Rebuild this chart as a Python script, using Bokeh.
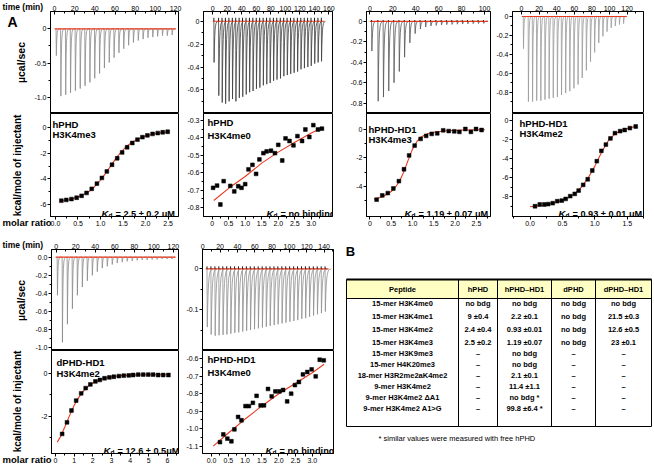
import numpy as np
from bokeh.plotting import figure
from bokeh.models import Range1d, FixedTicker, Label, CustomJSTickFormatter, GridBox
from bokeh.layouts import row, column
from bokeh.embed import file_html
from bokeh.resources import INLINE
from bokeh.core.properties import value

FONT = "Liberation Sans"
RED = "#e8391d"

# ================= DATA =================
# --- A1: hPHD / H3K4me3 ---
a1_inj_time = [1.5, 6.0, 10.8, 15.6, 20.4, 25.2, 30.0, 34.8, 39.6, 44.4, 49.2, 54.0, 58.8,
               63.6, 68.4, 73.2, 78.0, 82.8, 87.6, 92.4, 97.2, 102.0, 106.8, 111.6, 116.4]
a1_inj_peak = [-0.39, -0.98, -0.96, -0.93, -0.90, -0.87, -0.83, -0.78, -0.72, -0.65, -0.57, -0.49,
               -0.42, -0.35, -0.29, -0.24, -0.20, -0.17, -0.15, -0.13, -0.12, -0.11, -0.10, -0.10, -0.09]
a1_ratio = [0.13, 0.24, 0.355, 0.47, 0.58, 0.69, 0.805, 0.92, 1.03, 1.14, 1.255, 1.37, 1.48,
            1.59, 1.705, 1.82, 1.93, 2.04, 2.155, 2.27, 2.38, 2.49]
a1_heat = [-5.68, -5.62, -5.55, -5.45, -5.30, -5.08, -4.76, -4.36, -3.92, -3.42, -2.90, -2.40,
           -1.95, -1.55, -1.22, -0.96, -0.77, -0.63, -0.52, -0.45, -0.39, -0.35]
a1_fit_ratio = [0.10, 0.30, 0.50, 0.70, 0.80, 0.90, 1.00, 1.10, 1.20, 1.30, 1.40, 1.50, 1.60,
                1.70, 1.80, 1.90, 2.00, 2.20, 2.40, 2.50]
a1_fit_heat = [-5.72, -5.60, -5.40, -5.08, -4.82, -4.48, -4.08, -3.62, -3.12, -2.62, -2.15, -1.75,
               -1.42, -1.16, -0.96, -0.80, -0.68, -0.51, -0.41, -0.37]

# --- A2: hPHD / H3K4me0 ---
a2_inj_time = [1.5, 8.0, 12.7, 17.4, 22.2, 26.9, 31.6, 36.3, 41.0, 45.8, 50.5, 55.2, 59.9, 64.6,
               69.4, 74.1, 78.8, 83.5, 88.2, 93.0, 97.7, 102.4, 107.1, 111.8, 116.6, 121.3, 126.0,
               130.7, 135.4, 140.2, 144.9, 149.6]
a2_inj_peak = [-0.36, -0.65, -0.71, -0.72, -0.70, -0.68, -0.70, -0.67, -0.66, -0.64, -0.62, -0.61,
               -0.59, -0.58, -0.56, -0.55, -0.54, -0.52, -0.51, -0.50, -0.48, -0.47, -0.46, -0.45,
               -0.44, -0.42, -0.41, -0.40, -0.39, -0.37, -0.36, -0.35]
a2_ratio = [0.03, 0.15, 0.25, 0.35, 0.55, 0.67, 0.79, 0.89, 1.00, 1.10, 1.22, 1.33, 1.43, 1.55,
            1.65, 1.78, 1.90, 2.00, 2.12, 2.22, 2.34, 2.46, 2.58, 2.72, 2.82, 2.94, 3.06, 3.20, 3.32]
a2_heat = [-0.687, -0.674, -0.783, -0.649, -0.676, -0.708, -0.678, -0.687, -0.666, -0.581, -0.555,
           -0.607, -0.524, -0.488, -0.478, -0.474, -0.488, -0.440, -0.530, -0.403, -0.418, -0.443,
           -0.390, -0.418, -0.352, -0.395, -0.327, -0.352, -0.347]
a2_fit_ratio = [0.05, 0.50, 1.00, 1.50, 2.00, 2.50, 3.00, 3.30]
a2_fit_heat = [-0.760, -0.690, -0.622, -0.545, -0.482, -0.425, -0.372, -0.345]

# --- A3: hPHD-HD1 / H3K4me3 ---
a3_inj_time = [1.5, 7.0, 11.6, 16.2, 20.8, 25.4, 30.0, 34.6, 39.2, 43.8, 48.4, 53.0, 57.6, 62.2,
               66.8, 71.4, 76.0, 80.6, 85.2, 89.8, 94.4, 99.0]
a3_inj_peak = [-0.29, -0.78, -0.74, -0.68, -0.60, -0.49, -0.35, -0.21, -0.12, -0.075, -0.055,
               -0.045, -0.04, -0.035, -0.032, -0.03, -0.028, -0.026, -0.025, -0.023, -0.022, -0.02]
a3_ratio = [0.157, 0.29, 0.42, 0.55, 0.68, 0.80, 0.92, 1.05, 1.19, 1.32, 1.45, 1.58, 1.72, 1.85,
            1.98, 2.10, 2.24, 2.37, 2.49, 2.62]
a3_heat = [-4.92, -4.62, -4.46, -4.14, -3.63, -2.80, -1.84, -1.15, -0.69, -0.48, -0.34, -0.30,
           -0.09, -0.14, -0.16, -0.20, 0.00, -0.20, 0.00, -0.07]
a3_fit_ratio = [0.10, 0.30, 0.50, 0.60, 0.70, 0.80, 0.90, 1.00, 1.10, 1.20, 1.35, 1.50, 1.80,
                2.20, 2.70]
a3_fit_heat = [-4.88, -4.72, -4.35, -4.05, -3.60, -2.95, -2.15, -1.40, -0.88, -0.55, -0.33,
               -0.22, -0.12, -0.07, -0.05]

# --- A4: hPHD-HD1 / H3K4me2 ---
a4_inj_time = [2.0, 7.6, 12.3, 17.0, 21.7, 26.4, 31.1, 35.8, 40.5, 45.2, 49.9, 54.6, 59.3, 64.0,
               68.7, 73.4, 78.1, 82.8, 87.5, 92.2, 96.9, 101.6, 106.3, 111.0, 115.7]
a4_inj_peak = [-0.34, -0.90, -0.90, -0.89, -0.89, -0.88, -0.87, -0.86, -0.85, -0.83, -0.81, -0.79,
               -0.76, -0.72, -0.65, -0.57, -0.48, -0.38, -0.28, -0.21, -0.16, -0.12, -0.10,
               -0.085, -0.075]
a4_ratio = [0.077, 0.15, 0.22, 0.28, 0.35, 0.42, 0.49, 0.55, 0.62, 0.69, 0.75, 0.82, 0.89, 0.96,
            1.03, 1.10, 1.17, 1.24, 1.31, 1.39, 1.46, 1.54, 1.63]
a4_heat = [-9.02, -8.84, -8.84, -8.80, -8.70, -8.49, -8.42, -8.25, -7.96, -7.72, -7.37, -6.77,
           -6.18, -5.26, -4.28, -3.19, -2.53, -1.89, -1.33, -1.12, -1.00, -0.80, -0.63]
a4_fit_ratio = [0.00, 0.20, 0.40, 0.60, 0.70, 0.80, 0.90, 1.00, 1.05, 1.10, 1.20, 1.30, 1.40,
                1.50, 1.63]
a4_fit_heat = [-9.08, -8.92, -8.62, -8.10, -7.65, -6.95, -6.00, -4.80, -4.10, -3.40, -2.20,
               -1.45, -1.08, -0.85, -0.62]

# --- A5: dPHD-HD1 / H3K4me2 ---
a5_inj_time = [1.0, 6.1, 11.2, 16.3, 21.4, 26.5, 31.6, 36.7, 41.8, 46.9, 52.0, 57.1, 62.2, 67.3,
               72.4, 77.5, 82.6, 87.7, 92.8, 97.9, 103.0, 108.1, 113.2, 118.3]
a5_inj_peak = [-0.42, -0.94, -0.74, -0.57, -0.42, -0.33, -0.26, -0.20, -0.16, -0.12, -0.10, -0.08,
               -0.065, -0.055, -0.045, -0.04, -0.035, -0.03, -0.03, -0.025, -0.025, -0.02, -0.02,
               -0.02]
a5_ratio = [0.36, 0.62, 0.86, 1.11, 1.38, 1.62, 1.87, 2.14, 2.38, 2.63, 2.89, 3.13, 3.40, 3.66,
            3.93, 4.16, 4.43, 4.70, 4.97, 5.23, 5.50, 5.77, 6.05]
a5_heat = [-2.82, -2.28, -1.73, -1.27, -0.93, -0.69, -0.52, -0.38, -0.31, -0.23, -0.19, -0.16,
           -0.13, -0.11, -0.10, -0.08, -0.06, -0.06, -0.06, -0.06, -0.08, -0.08, -0.08]
a5_fit_ratio = [0.10, 0.30, 0.50, 0.75, 1.00, 1.25, 1.50, 1.75, 2.00, 2.50, 3.00, 3.50, 4.00,
                5.00, 6.10]
a5_fit_heat = [-3.20, -2.90, -2.50, -1.98, -1.50, -1.12, -0.83, -0.61, -0.45, -0.26, -0.16,
               -0.11, -0.085, -0.07, -0.065]

# --- A6: hPHD-HD1 / H3K4me0 ---
a6_inj_time = [4.9, 9.4, 14.0, 18.5, 23.1, 27.6, 32.1, 36.7, 41.2, 45.8, 50.3, 54.8, 59.4, 63.9,
               68.5, 73.0, 77.5, 82.1, 86.6, 91.2, 95.7, 100.2, 104.8, 109.3, 113.9, 118.4, 122.9,
               127.5, 132.0, 136.6, 141.1]
a6_inj_peak = [-0.142, -0.160, -0.163, -0.162, -0.161, -0.160, -0.158, -0.156, -0.155, -0.153,
               -0.151, -0.149, -0.147, -0.145, -0.143, -0.141, -0.139, -0.137, -0.135, -0.133,
               -0.131, -0.129, -0.127, -0.125, -0.122, -0.120, -0.117, -0.114, -0.111, -0.108,
               -0.104]
a6_ratio = [0.25, 0.35, 0.47, 0.59, 0.68, 0.79, 0.89, 1.01, 1.11, 1.23, 1.34, 1.46, 1.56, 1.68,
            1.79, 1.90, 2.02, 2.13, 2.25, 2.37, 2.48, 2.60, 2.72, 2.85, 2.98, 3.10, 3.22, 3.34]
a6_heat = [-1.077, -1.033, -1.057, -1.072, -1.004, -0.933, -0.952, -0.871, -0.871, -0.852,
           -0.812, -0.867, -0.867, -0.773, -0.815, -0.787, -0.787, -0.779, -0.844, -0.800,
           -0.751, -0.733, -0.690, -0.676, -0.661, -0.701, -0.606, -0.609]
a6_fit_ratio = [0.05, 0.50, 1.00, 1.50, 2.00, 2.50, 3.00, 3.35]
a6_fit_heat = [-1.100, -1.025, -0.945, -0.870, -0.800, -0.740, -0.680, -0.632]

# --- tick values ---
time_ticks_120 = [0, 20, 40, 60, 80, 100, 120]
time_ticks_160 = [0, 20, 40, 60, 80, 100, 120, 140, 160]
time_ticks_100 = [0, 20, 40, 60, 80, 100]
time_ticks_140 = [0, 20, 40, 60, 80, 100, 120, 140]

# --- free texts ---
lab_time = "time (min)"
lab_raw = "\u00b5cal/sec"
lab_heat = "kcal/mole of injectant"
lab_ratio = "molar ratio"

# --- table B ---
tbl_header = ["Peptide", "hPHD", "hPHD\u2013HD1", "dPHD", "dPHD\u2013HD1"]
tbl_peptide = ["15-mer H3K4me0", "15-mer H3K4me1", "15-mer H3K4me2", "15-mer H3K4me3",
               "15-mer H3K9me3", "15-mer H4K20me3", "18-mer H3R2me2aK4me2", "9-mer H3K4me2",
               "9-mer H3K4me2 \u0394A1", "9-mer H3K4me2 A1>G"]
tbl_hphd = ["no bdg", "9 \u00b10.4", "2.4 \u00b10.4", "2.5 \u00b10.2", "\u2013", "\u2013",
            "\u2013", "\u2013", "\u2013", "\u2013"]
tbl_hphd_hd1 = ["no bdg", "2.2 \u00b10.1", "0.93 \u00b10.01", "1.19 \u00b10.07", "no bdg",
                "no bdg", "2.1 \u00b10.1", "11.4 \u00b11.1", "no bdg *", "99.8 \u00b16.4 *"]
tbl_dphd = ["no bdg", "no bdg", "no bdg", "no bdg", "\u2013", "\u2013", "\u2013", "\u2013",
            "\u2013", "\u2013"]
tbl_dphd_hd1 = ["no bdg", "21.5 \u00b10.3", "12.6 \u00b10.5", "23 \u00b10.1", "\u2013", "\u2013",
                "\u2013", "\u2013", "\u2013", "\u2013"]
tbl_note = "* similar values were measured with free hPHD"


# ================= HELPERS =================
def fmt_axis(ax, ticks, labels, minor, inward=False):
    ax.ticker = FixedTicker(ticks=list(ticks), minor_ticks=list(minor))
    ax.formatter = CustomJSTickFormatter(
        args=dict(tv=list(ticks), tl=list(labels)),
        code="for (let i = 0; i < tv.length; i++) { if (Math.abs(tv[i] - tick) < 1e-6) return tl[i]; } return '';")
    ax.major_label_text_font = FONT
    ax.major_label_text_font_size = "7px"
    ax.major_label_text_color = "black"
    ax.axis_line_color = "black"
    ax.major_tick_line_color = "black"
    ax.minor_tick_line_color = "black"
    if inward:
        ax.major_tick_in, ax.major_tick_out = 3, 0
        ax.minor_tick_in, ax.minor_tick_out = 2, 0
    else:
        ax.major_tick_in, ax.major_tick_out = 0, 3
        ax.minor_tick_in, ax.minor_tick_out = 0, 2
    ax.major_label_standoff = 1


def raw_trace(times, peaks, tau):
    decay = [0.2, 0.5, 1.0, 1.5, 2.0, 3.0, 4.0, 6.0]
    xs, ys = [], []
    for ti, hi in zip(times, peaks):
        xs += [ti, ti + 0.3]
        ys += [0.0, hi]
        for d in decay:
            xs.append(ti + 0.3 + d * tau)
            ys.append(hi * np.exp(-d))
    return xs, ys


def lbl(p, x, y, text, dx, dy, size, style="bold", align="left", baseline="middle"):
    p.add_layout(Label(x=x, y=y, x_offset=dx, y_offset=dy, text=text, text_font=FONT,
                       text_font_size=f"{size}px", text_font_style=style, text_color="black",
                       text_align=align, text_baseline=baseline))


def base_fig(fw, fh, xr, yr, bl, br, bt, bb, above):
    kw = dict(frame_width=fw, frame_height=fh, x_range=Range1d(*xr), y_range=Range1d(*yr),
              toolbar_location=None, output_backend="svg", min_border_left=bl,
              min_border_right=br, min_border_top=bt, min_border_bottom=bb)
    if above:
        kw["x_axis_location"] = "above"
    p = figure(**kw)
    p.grid.visible = False
    p.outline_line_color = "black"
    p.outline_line_width = 1
    p.background_fill_color = "white"
    p.border_fill_color = "white"
    return p


def panel(c):
    top = base_fig(c["fw"], c["top_fh"], c["t_range"], c["r_range"], c["bl"], c["br"],
                   c["top_bt"], 0, True)
    xs, ys = raw_trace(c["inj_time"], c["inj_peak"], c["tau"])
    top.line(xs, ys, color=c["trace_color"], line_width=0.8)
    top.line([c["inj_time"][0] - 1.5, c["inj_time"][-1] + 4], [0, 0], color=RED, line_width=1.2)
    if c.get("mark", 0):
        top.segment(x0=c["inj_time"], y0=[0] * len(c["inj_time"]), x1=c["inj_time"],
                    y1=[c["mark"]] * len(c["inj_time"]), color="black", line_width=0.9)
    fmt_axis(top.xaxis[0], c["t_ticks"], [str(v) for v in c["t_ticks"]], c["t_minor"], inward=True)
    fmt_axis(top.yaxis[0], c["r_ticks"], c["r_labels"], c["r_minor"])

    bot = base_fig(c["fw"], c["bot_fh"], c["m_range"], c["h_range"], c["bl"], c["br"], 0,
                   c["bot_bb"], False)
    bot.line(c["fit_x"], c["fit_y"], color=RED, line_width=1.1)
    bot.scatter(c["ratio"], c["heat"], marker="square", size=3.8, color="black", line_width=0.5)
    fmt_axis(bot.xaxis[0], c["m_ticks"], c["m_labels"], c["m_minor"])
    fmt_axis(bot.yaxis[0], c["h_ticks"], c["h_labels"], c["h_minor"])

    x0 = c["m_range"][0]
    y0, y1 = c["h_range"]
    lbl(bot, x0, y1, c["protein"], c["name_dx"], -c["name_dy"][0], 9.5)
    lbl(bot, x0, y1, c["peptide"], c["name_dx"], -c["name_dy"][1], 9.5)
    k = c["kd_dx"]
    lbl(bot, x0, y0, "K", k, 3, 9.5, "bold italic", baseline="alphabetic")
    lbl(bot, x0, y0, "d", k + 7, 1, 6.5, "bold", baseline="alphabetic")
    lbl(bot, x0, y0, c["kd"], k + 14, 3, 9.2, "bold", baseline="alphabetic")
    return top, bot


def rng(a, b, s):
    return [float(v) for v in np.round(np.arange(a, b + s / 2, s), 4)]


ROW1 = dict(top_bt=11, top_fh=102, bot_fh=103, bot_bb=14)
ROW2 = dict(top_bt=19, top_fh=101, bot_fh=103, bot_bb=12)

cfgs = [
    dict(ROW1, fw=128, bl=50, br=5, tau=0.5, trace_color="#8a8a8a",
         inj_time=a1_inj_time, inj_peak=a1_inj_peak, t_range=(-4, 123), r_range=(-1.233, 0.252),
         t_ticks=time_ticks_120, t_minor=rng(10, 110, 20),
         r_ticks=[0, -0.5, -1.0], r_labels=["0", "-0.5", "-1.0"], r_minor=[-0.25, -0.75],
         ratio=a1_ratio, heat=a1_heat, fit_x=a1_fit_ratio, fit_y=a1_fit_heat,
         m_range=(-0.11, 2.73), h_range=(-6.9, 1.06),
         m_ticks=[0, 0.5, 1.0, 1.5, 2.0, 2.5], m_labels=["0.0", "0.5", "1.0", "1.5", "2.0", "2.5"],
         m_minor=rng(0.25, 2.75, 0.5), h_ticks=[0, -2, -4, -6], h_labels=["0", "-2", "-4", "-6"],
         h_minor=[-1, -3, -5], protein="hPHD", peptide="H3K4me3", name_dx=2, name_dy=(11, 21),
         kd_dx=51, kd="= 2.5 \u00b1 0.2 \u03bcM"),
    dict(ROW1, fw=129, bl=20, br=14, tau=0.9, trace_color="#3c3c3c", mark=0.03,
         inj_time=a2_inj_time, inj_peak=a2_inj_peak, t_range=(-12.8, 165), r_range=(-0.806, 0.085),
         t_ticks=time_ticks_160, t_minor=rng(10, 150, 20),
         r_ticks=[0, -0.2, -0.4, -0.6], r_labels=["0", "-0.2", "-0.4", "-0.6"],
         r_minor=[-0.1, -0.3, -0.5, -0.7],
         ratio=a2_ratio, heat=a2_heat, fit_x=a2_fit_ratio, fit_y=a2_fit_heat,
         m_range=(-0.26, 3.64), h_range=(-0.852, -0.26),
         m_ticks=[0, 0.5, 1.0, 1.5, 2.0, 2.5, 3.0],
         m_labels=["0", "0.5", "1.0", "1.5", "2.0", "2.5", "3.0"], m_minor=rng(0.25, 3.25, 0.5),
         h_ticks=[-0.3, -0.4, -0.5, -0.6, -0.7, -0.8],
         h_labels=["-0.3", "-0.4", "-0.5", "-0.6", "-0.7", "-0.8"],
         h_minor=[-0.35, -0.45, -0.55, -0.65, -0.75], protein="hPHD", peptide="H3K4me0",
         name_dx=4, name_dy=(9, 22), kd_dx=63, kd="= no binding"),
    dict(ROW1, fw=124, bl=20, br=3, tau=0.6, trace_color="#555555", mark=0.012,
         inj_time=a3_inj_time, inj_peak=a3_inj_peak, t_range=(-2.9, 105.2), r_range=(-0.9, 0.096),
         t_ticks=time_ticks_100, t_minor=rng(10, 90, 20),
         r_ticks=[0, -0.2, -0.4, -0.6, -0.8], r_labels=["0", "-0.2", "-0.4", "-0.6", "-0.8"],
         r_minor=[-0.1, -0.3, -0.5, -0.7],
         ratio=a3_ratio, heat=a3_heat, fit_x=a3_fit_ratio, fit_y=a3_fit_heat,
         m_range=(-0.08, 2.83), h_range=(-6.09, 1.08),
         m_ticks=[0, 0.5, 1.0, 1.5, 2.0, 2.5], m_labels=["0", "0.5", "1.0", "1.5", "2.0", "2.5"],
         m_minor=rng(0.25, 2.75, 0.5), h_ticks=[0, -2, -4], h_labels=["0", "-2", "-4"],
         h_minor=[-1, -3, -5], protein="hPHD-HD1", peptide="H3K4me3", name_dx=2,
         name_dy=(16, 26), kd_dx=38, kd="= 1.19 \u00b1 0.07 \u03bcM"),
    dict(ROW1, fw=131, bl=19, br=10, tau=0.5, trace_color="#9a9a9a",
         inj_time=a4_inj_time, inj_peak=a4_inj_peak, t_range=(-10.2, 138.6), r_range=(-1.026, 0.053),
         t_ticks=time_ticks_120, t_minor=rng(10, 130, 20),
         r_ticks=[0, -0.2, -0.4, -0.6, -0.8], r_labels=["0", "-0.2", "-0.4", "-0.6", "-0.8"],
         r_minor=[-0.1, -0.3, -0.5, -0.7, -0.9],
         ratio=a4_ratio, heat=a4_heat, fit_x=a4_fit_ratio, fit_y=a4_fit_heat,
         m_range=(-0.27, 1.75), h_range=(-10.1, 0.737),
         m_ticks=[0, 0.5, 1.0, 1.5], m_labels=["0.0", "0.5", "1.0", "1.5"],
         m_minor=rng(-0.25, 1.75, 0.5), h_ticks=[0, -2, -4, -6, -8],
         h_labels=["0", "-2", "-4", "-6", "-8"], h_minor=[-1, -3, -5, -7, -9],
         protein="hPHD-HD1", peptide="H3K4me2", name_dx=7, name_dy=(10, 20),
         kd_dx=46, kd="= 0.93 \u00b1 0.01 \u03bcM"),
    dict(ROW2, fw=127, bl=51, br=5, tau=0.5, trace_color="#8a8a8a",
         inj_time=a5_inj_time, inj_peak=a5_inj_peak, t_range=(-4.8, 125.2), r_range=(-1.03, 0.085),
         t_ticks=time_ticks_120, t_minor=rng(10, 110, 20),
         r_ticks=[0, -0.2, -0.4, -0.6, -0.8, -1.0],
         r_labels=["0.0", "-0.2", "-0.4", "-0.6", "-0.8", "-1.0"],
         r_minor=[-0.1, -0.3, -0.5, -0.7, -0.9],
         ratio=a5_ratio, heat=a5_heat, fit_x=a5_fit_ratio, fit_y=a5_fit_heat,
         m_range=(-0.21, 6.59), h_range=(-3.73, 1.06),
         m_ticks=[0, 1, 2, 3, 4, 5, 6], m_labels=["0", "1", "2", "3", "4", "5", "6"],
         m_minor=rng(0.5, 6.5, 1.0), h_ticks=[0, -2], h_labels=["0", "-2"], h_minor=[-1, -3],
         protein="dPHD-HD1", peptide="H3K4me2", name_dx=5, name_dy=(12, 23),
         kd_dx=52, kd="= 12.6 \u00b1 0.5\u03bcM"),
    dict(ROW2, fw=131, bl=19, br=7, tau=1.1, trace_color="#8f8f8f", mark=0.006,
         inj_time=a6_inj_time, inj_peak=a6_inj_peak, t_range=(-0.3, 150.8), r_range=(-0.199, 0.047),
         t_ticks=time_ticks_140, t_minor=rng(10, 150, 20),
         r_ticks=[0, -0.1], r_labels=["0", "-0.1"], r_minor=[-0.05, -0.15],
         ratio=a6_ratio, heat=a6_heat, fit_x=a6_fit_ratio, fit_y=a6_fit_heat,
         m_range=(-0.27, 3.63), h_range=(-1.142, -0.553),
         m_ticks=[0, 0.5, 1.0, 1.5, 2.0, 2.5, 3.0],
         m_labels=["0.0", "0.5", "1.0", "1.5", "2.0", "2.5", "3.0"], m_minor=rng(0.25, 3.25, 0.5),
         h_ticks=[-0.6, -0.7, -0.8, -0.9, -1.0, -1.1],
         h_labels=["-0.6", "-0.7", "-0.8", "-0.9", "-1.0", "-1.1"],
         h_minor=[-0.65, -0.75, -0.85, -0.95, -1.05], protein="hPHD-HD1", peptide="H3K4me0",
         name_dx=5, name_dy=(9, 22), kd_dx=63, kd="= no binding"),
]

cols = []
for c in cfgs:
    t, b = panel(c)
    cols.append(column(t, b, spacing=0))

# ================= TABLE B =================
TW, TH = 313, 235
tb = figure(width=TW, height=TH, x_range=Range1d(0, TW), y_range=Range1d(TH, 0),
            x_axis_type=None, y_axis_type=None, toolbar_location=None, output_backend="svg",
            min_border=0, outline_line_color=None)
tb.grid.visible = False
col_edges = [6, 118, 157, 211, 255, 311]
head_top, head_bot, tbl_bot = 49, 68, 196
tb.quad(left=[col_edges[0]], right=[col_edges[-1]], top=[head_top], bottom=[head_bot],
        fill_color="#ffffc4", line_color=None)
tb.quad(left=[col_edges[0]], right=[col_edges[-1]], top=[head_top], bottom=[tbl_bot],
        fill_color=None, line_color="black", line_width=1)
tb.segment(x0=[col_edges[0]], y0=[head_top], x1=[col_edges[-1]], y1=[head_top],
           color="black", line_width=1.8)
tb.segment(x0=[col_edges[0]], y0=[head_bot], x1=[col_edges[-1]], y1=[head_bot],
           color="black", line_width=1)
inner = col_edges[1:-1]
tb.segment(x0=inner, y0=[head_top] * len(inner), x1=inner, y1=[tbl_bot] * len(inner),
           color="black", line_width=1)
centers = [(a + b) / 2 for a, b in zip(col_edges[:-1], col_edges[1:])]
tfont = dict(text_font=value(FONT), text_font_size="7.5px", text_font_style="bold",
             text_align="center", text_baseline="middle", text_color="black")
tb.text(x=centers, y=[(head_top + head_bot) / 2] * 5, text=tbl_header, **tfont)
row_y = [73 + 13 * min(k, 3) + 11 * max(k - 3, 0) for k in range(len(tbl_peptide))]
for cx, vals in zip(centers, [tbl_peptide, tbl_hphd, tbl_hphd_hd1, tbl_dphd, tbl_dphd_hd1]):
    tb.text(x=[cx] * len(vals), y=row_y, text=vals, **tfont)
tb.text(x=[10], y=[21], text=["B"], text_font=value(FONT), text_font_size="13px",
        text_font_style="bold", text_align="center", text_baseline="middle", text_color="black")
tb.text(x=[38], y=[208], text=[tbl_note], text_font=value(FONT), text_font_size="7.5px",
        text_align="left", text_baseline="middle", text_color="black")

row1 = row(cols[0], cols[1], cols[2], cols[3], spacing=0)
row2 = row(cols[4], cols[5], tb, spacing=0)
main = column(row1, row2, spacing=0)

# ================= OVERLAY for free texts outside the frames =================
OW, OH = 653, 465
ov = figure(width=OW, height=OH, x_range=Range1d(0, OW), y_range=Range1d(OH, 0),
            x_axis_type=None, y_axis_type=None, toolbar_location=None, output_backend="svg",
            min_border=0, outline_line_color=None, background_fill_color=None,
            border_fill_color=None)
ov.grid.visible = False
bold = dict(text_font=value(FONT), text_font_style="bold", text_color="black",
            text_baseline="middle")
ov.text(x=[2, 2], y=[6, 244], text=[lab_time] * 2, text_font_size="8.5px", text_align="left", **bold)
ov.text(x=[2, 2], y=[222, 459], text=[lab_ratio] * 2, text_font_size="9.5px", text_align="left", **bold)
ov.text(x=[20, 20], y=[62, 300], text=[lab_raw] * 2, text_font_size="10.5px", text_align="center",
        angle=np.pi / 2, **bold)
ov.text(x=[17, 17], y=[165, 401], text=[lab_heat] * 2, text_font_size="10px", text_align="center",
        angle=np.pi / 2, **bold)
ov.text(x=[12], y=[21], text=["A"], text_font_size="14px", text_align="center", **bold)

page = GridBox(children=[(main, 0, 0), (ov, 0, 0)], spacing=0)

open("out.html", "w").write(file_html(page, INLINE))
